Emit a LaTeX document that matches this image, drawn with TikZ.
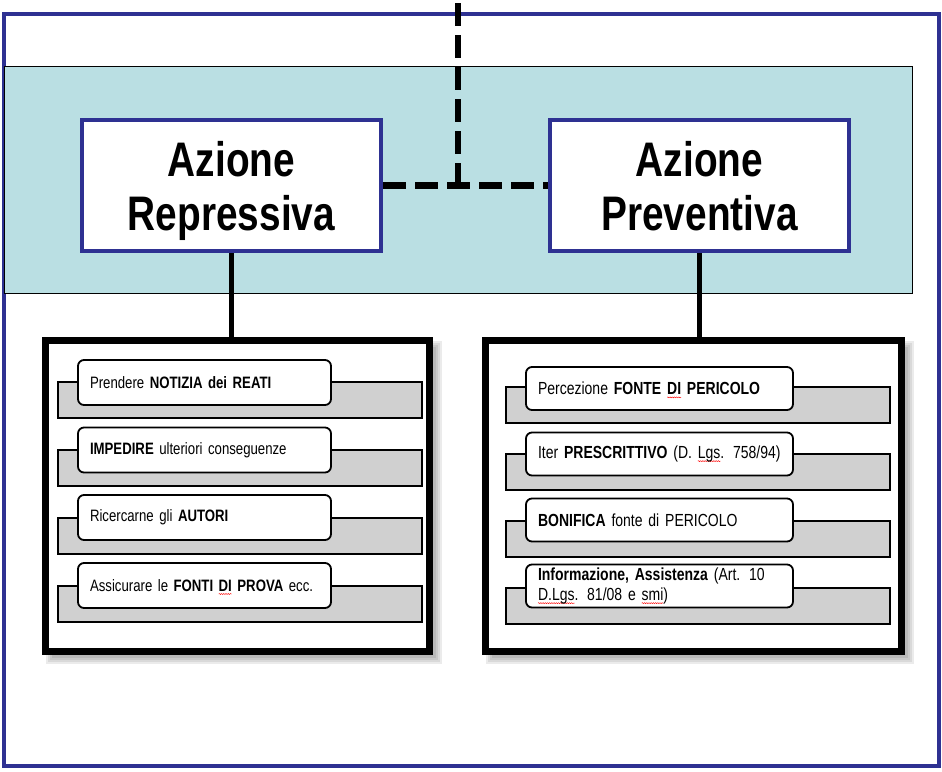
\documentclass[tikz,border=0pt]{standalone}
\usepackage{fontspec}
\setmainfont[FakeStretch=0.8]{Liberation Sans}
\usetikzlibrary{decorations.pathmorphing}
\newsavebox\swbox
\newcommand\spellwave[1]{\leavevmode{\sbox\swbox{#1}\rlap{\raisebox{0pt}[0pt][0pt]{\tikz[overlay,baseline=0pt,x=1pt,y=1pt,sharp corners]\path[draw=red, fill=none, solid, sharp corners, line width=0.45pt, decorate, decoration={snake, amplitude=0.5pt, segment length=2.2pt}] (0pt,-2.6pt) -- (\the\wd\swbox,-2.6pt);}}\usebox\swbox}}
\definecolor{navyline}{RGB}{46,49,146}
\definecolor{bandteal}{RGB}{186,223,227}
\definecolor{itemgray}{RGB}{208,208,208}
\tikzset{
  titlebox/.style={draw=navyline, line width=4pt, fill=white, minimum width=299pt, minimum height=131pt, align=center, font=\fontsize{48.5}{54}\selectfont\bfseries, inner sep=0pt, text depth=0pt},
  panelbox/.style={draw=black, line width=7pt, fill=white, minimum height=311pt, inner sep=0pt},
  graybar/.style={draw=black, line width=1.8pt, fill=itemgray, inner sep=0pt},
  whiteitem/.style={draw=black, line width=1.8pt, fill=white, rounded corners=6pt, inner xsep=12pt, inner ysep=0pt, align=left},
  leftitem/.style={whiteitem, minimum width=253pt, minimum height=45pt, text width=229pt, font=\fontsize{16.5}{19}\selectfont},
  rightitem/.style={whiteitem, minimum width=267pt, minimum height=43pt, text width=243pt, font=\fontsize{17.5}{20}\selectfont},
  leftbar/.style={graybar, minimum width=364pt, minimum height=36pt},
  rightbar/.style={graybar, minimum width=384pt, minimum height=36pt},
  solidconn/.style={draw=black, line width=5pt},
  dashconn/.style={draw=black, line width=7pt, dash pattern=on 23pt off 9pt},
  dashconnv/.style={draw=black, line width=6pt, dash pattern=on 23pt off 9pt, dash phase=-3pt},
}
\begin{document}
\begin{tikzpicture}[x=1pt,y=-1pt]
\useasboundingbox (0,0) rectangle (942,771);
% outer frame
\draw[navyline, line width=4pt] (4,14) rectangle (939,766);
% band
\node[draw=black, line width=0.8pt, fill=bandteal, minimum width=908pt, minimum height=227pt, inner sep=0pt, anchor=north west] (band) at (3.5,65.5) {};
% dashed connectors
\coordinate (topend) at (458,0);
\node[titlebox] (rep) at (231.5,185.5) {Azione\\Repressiva};
\node[titlebox] (prev) at (699.5,185.5) {Azione\\Preventiva};
\draw[dashconnv] (topend) -- (topend |- rep.east);
\draw[dashconn] (rep.east) -- (prev.west);
% shadows of panels
\foreach \r in {0,2,4,6} {
  \fill[black, opacity=0.08] (45.5+6-\r,340.5+6-\r) rectangle (429.5+6+\r,651.5+6+\r);
  \fill[black, opacity=0.08] (485.5+6-\r,340.5+6-\r) rectangle (901.5+6+\r,651.5+6+\r);
}
% panels
\node[panelbox, minimum width=384pt] (lpanel) at (237.5,496) {};
\node[panelbox, minimum width=416pt] (rpanel) at (693.5,496) {};
\draw[solidconn] (rep.south) -- (rep.south |- lpanel.north);
\draw[solidconn] (prev.south) -- (prev.south |- rpanel.north);
% left items
\node[leftbar] (lb1) at (240,400) {};
\node[leftitem] (li1) at (204.5,382.5) {Prendere \textbf{NOTIZIA dei REATI}};
\node[leftbar] (lb2) at (240,468) {};
\node[leftitem] (li2) at (204.5,450) {\textbf{IMPEDIRE} ulteriori conseguenze};
\node[leftbar] (lb3) at (240,536) {};
\node[leftitem] (li3) at (204.5,517.5) {Ricercarne gli \textbf{AUTORI}};
\node[leftbar] (lb4) at (240,604) {};
\node[leftitem] (li4) at (204.5,585.5) {Assicurare le \textbf{FONTI \spellwave{DI} PROVA} ecc.};
% right items
\node[rightbar] (rb1) at (698,405) {};
\node[rightitem] (ri1) at (659.5,388.5) {Percezione \textbf{FONTE \spellwave{DI} PERICOLO}};
\node[rightbar] (rb2) at (698,472) {};
\node[rightitem] (ri2) at (659.5,454) {Iter \textbf{PRESCRITTIVO} (D. \spellwave{Lgs}. 758/94)};
\node[rightbar] (rb3) at (698,539) {};
\node[rightitem] (ri3) at (659.5,520) {\textbf{BONIFICA} fonte di PERICOLO};
\node[rightbar] (rb4) at (698,606) {};
\node[rightitem] (ri4) at (659.5,586) {\textbf{Informazione, Assistenza} (Art. 10\\\spellwave{D.Lgs}. 81/08 e \spellwave{smi})};
\end{tikzpicture}
\end{document}
